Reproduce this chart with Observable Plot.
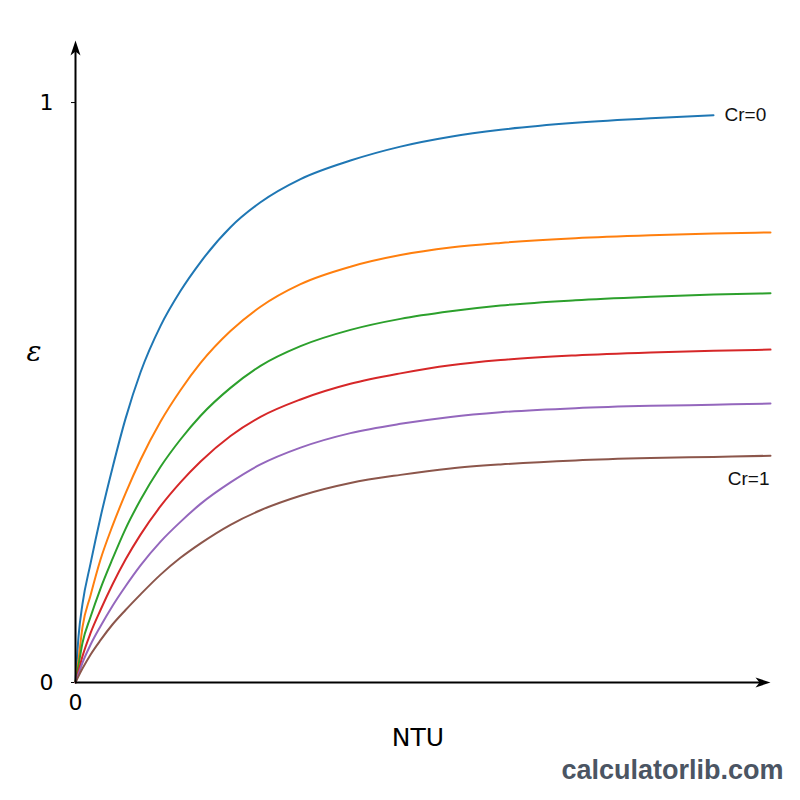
<!DOCTYPE html>
<html>
<head>
<meta charset="utf-8">
<script src="https://cdn.jsdelivr.net/npm/d3@7"></script>
<script src="https://cdn.jsdelivr.net/npm/@observablehq/plot@0.6"></script>
<style>
  html, body { margin: 0; padding: 0; background: #fff; }
  #chart svg { display: block; }
</style>
</head>
<body>
<div id="chart"></div>
<script>
// NTU sample points
const ntu = [0, 0.022, 0.05, 0.108, 0.18, 0.266, 0.36, 0.468, 0.612, 0.755, 0.9, 1.115, 1.331, 1.619, 1.978, 2.338, 2.698, 3.058, 3.597, 4.137, 4.59, 5.0];
// effectiveness series, one per curve (top to bottom); Cr=0 stops earlier for its label
const cr0 = [0, 0.080, 0.135, 0.205, 0.285, 0.370, 0.455, 0.535, 0.615, 0.675, 0.725, 0.785, 0.828, 0.868, 0.900, 0.924, 0.941, 0.953, 0.965, 0.973, 0.978];
const crB = [0, 0.040, 0.095, 0.150, 0.212, 0.270, 0.326, 0.384, 0.450, 0.504, 0.551, 0.606, 0.648, 0.687, 0.717, 0.737, 0.750, 0.758, 0.766, 0.771, 0.774, 0.776];
const crC = [0, 0.030, 0.068, 0.113, 0.162, 0.213, 0.265, 0.315, 0.372, 0.419, 0.460, 0.508, 0.546, 0.580, 0.608, 0.627, 0.640, 0.650, 0.659, 0.665, 0.669, 0.671];
const crD = [0, 0.020, 0.045, 0.085, 0.125, 0.169, 0.212, 0.255, 0.304, 0.345, 0.381, 0.425, 0.458, 0.488, 0.515, 0.533, 0.547, 0.556, 0.564, 0.569, 0.572, 0.574];
const crE = [0, 0.015, 0.034, 0.065, 0.097, 0.132, 0.166, 0.202, 0.243, 0.277, 0.308, 0.345, 0.376, 0.405, 0.430, 0.446, 0.458, 0.466, 0.473, 0.477, 0.479, 0.481];
const cr1 = [0, 0.011, 0.024, 0.048, 0.073, 0.100, 0.125, 0.152, 0.186, 0.215, 0.240, 0.272, 0.297, 0.322, 0.344, 0.358, 0.369, 0.376, 0.383, 0.387, 0.389, 0.391];
const seriesNames = ["s0", "s1", "s2", "s3", "s4", "s5"];
const seriesValues = [cr0, crB, crC, crD, crE, cr1];
const seriesColors = ["#1f77b4", "#ff7f0e", "#2ca02c", "#d62728", "#9467bd", "#8c564b"];
const yTicks = [0, 1];
const xTicks = [0];
const curveLabels = ["Cr=0", "Cr=1"];

const xMax = 5;
const yMax = 1.107;

const rows = [];
seriesValues.forEach((vals, i) => {
  vals.forEach((v, j) => rows.push({s: seriesNames[i], ntu: ntu[j], eps: v}));
});

const lastOf = (vals) => ({ntu: ntu[vals.length - 1], eps: vals[vals.length - 1]});

const arrowUp = { draw(ctx) { ctx.moveTo(0, 0); ctx.lineTo(-5, 15); ctx.lineTo(0, 11); ctx.lineTo(5, 15); ctx.closePath(); } };
const arrowRight = { draw(ctx) { ctx.moveTo(0, 0); ctx.lineTo(-15, -5); ctx.lineTo(-11, 0); ctx.lineTo(-15, 5); ctx.closePath(); } };

const chart = Plot.plot({
  width: 800,
  height: 800,
  marginLeft: 75,
  marginRight: 30,
  marginTop: 40,
  marginBottom: 118,
  style: { background: "#fff", fontFamily: "DejaVu Sans", overflow: "visible" },
  x: { domain: [0, xMax] },
  y: { domain: [0, yMax] },
  color: { domain: seriesNames, range: seriesColors },
  marks: [
    Plot.axisY({ticks: yTicks, tickSize: 4, tickPadding: 18, fontSize: 22, tickFormat: d => String(d), label: null, stroke: "#000", fill: "#000"}),
    Plot.axisX({ticks: xTicks, tickSize: 0, tickPadding: 12, fontSize: 22, tickFormat: d => String(d), label: null, fill: "#000"}),
    Plot.line(rows, {x: "ntu", y: "eps", z: "s", stroke: "s", strokeWidth: 2, curve: "monotone-x"}),
    Plot.ruleX([0], {y1: 0, y2: yMax * 0.985, stroke: "#000", strokeWidth: 2}),
    Plot.ruleY([0], {x1: 0, x2: xMax * 0.99, stroke: "#000", strokeWidth: 2}),
    Plot.dot([{x: 0, y: yMax}], {x: "x", y: "y", symbol: arrowUp, fill: "#000", stroke: "none", r: 5}),
    Plot.dot([{x: xMax, y: 0}], {x: "x", y: "y", symbol: arrowRight, fill: "#000", stroke: "none", r: 5}),
    Plot.text([lastOf(cr0)], {x: "ntu", y: "eps", text: () => curveLabels[0], dx: 11, textAnchor: "start", fontSize: 19, fontFamily: "Liberation Sans", fill: "#111"}),
    Plot.text([lastOf(cr1)], {x: "ntu", y: "eps", text: () => curveLabels[1], dy: 23, dx: -1, textAnchor: "end", fontSize: 19, fontFamily: "Liberation Sans", fill: "#111"}),
    Plot.text(["NTU"], {frameAnchor: "bottom", dy: 63, dx: -5, fontSize: 25, fontFamily: "DejaVu Sans", fill: "#000"}),
    Plot.text(["ε"], {frameAnchor: "left", dx: -49, dy: -9, fontSize: 28, fontFamily: "DejaVu Serif", fontStyle: "italic", fill: "#000"}),
    Plot.text(["calculatorlib.com"], {frameAnchor: "bottom-right", dx: 13, dy: 96, textAnchor: "end", fontSize: 27, fontWeight: "bold", fontFamily: "Liberation Sans", fill: "#4b5563"})
  ]
});
document.getElementById("chart").appendChild(chart);
</script>
</body>
</html>
